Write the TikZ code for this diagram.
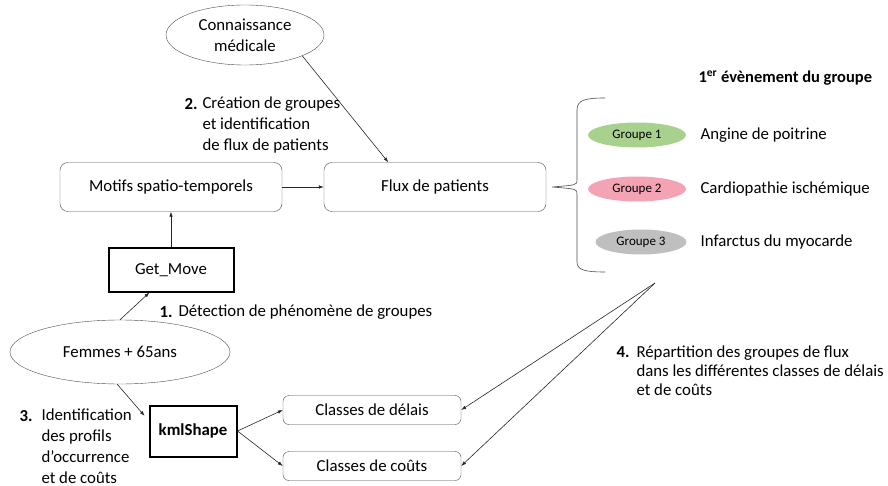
\documentclass[tikz,border=0pt]{standalone}
\usepackage{fontspec}
\setmainfont{Carlito}
\usetikzlibrary{calc, shapes.geometric, arrows.meta}

\begin{document}
\begin{tikzpicture}[x=1pt, y=-1pt,
    every node/.style={font=\fontsize{16.8}{21}\selectfont},
    >={Latex[length=5pt,width=3.5pt]},
    roundbox/.style={draw=black!70, rounded corners=8pt, minimum height=49pt, minimum width=222pt},
    smallbox/.style={draw=black!70, rounded corners=6pt, minimum height=29pt, minimum width=178pt},
    toolbox/.style={draw=black, line width=2pt, minimum height=43pt},
    blob/.style={ellipse, draw=black!70, inner sep=0pt},
    groupe/.style={ellipse, minimum width=98pt, minimum height=25pt, inner sep=0pt, font=\fontsize{13}{15}\selectfont},
    numero/.style={anchor=west, font=\fontsize{16.8}{21}\selectfont\bfseries},
    conn/.style={->, black!85, line width=0.6pt}]

    % Define colours
    \definecolor{vertGroupe}{HTML}{A9D18E}
    \definecolor{roseGroupe}{HTML}{F4A3B4}
    \definecolor{grisGroupe}{HTML}{BFBFBF}

    % Fix the page size
    \useasboundingbox (0,0) rectangle (888,486);

    % Draw ellipses
    \node[blob, minimum width=158pt, minimum height=60pt, align=center] (connaissance) at (245,35) {Connaissance\\médicale};
    \node[blob, minimum width=220pt, minimum height=64pt] (femmes) at (120,352) {Femmes + 65ans};

    % Draw the main boxes
    \node[roundbox] (motifs) at (171,187) {Motifs spatio-temporels};
    \node[roundbox] (flux) at (435,187) {Flux de patients};
    \node[toolbox, minimum width=125pt] (getmove) at (171,270) {Get\_Move};
    \node[toolbox, minimum width=87pt, minimum height=51pt, font=\fontsize{16.8}{21}\selectfont\bfseries] (kml) at (193,431) {kmlShape};
    \node[smallbox] (delais) at (372,410) {Classes de délais};
    \node[smallbox] (couts) at (372,466) {Classes de coûts};

    % Draw the brace and the groups
    \draw[black!70, line width=0.6pt] (605,98) .. controls (585,98) and (577,100) .. (577,110)
        -- (577,180) .. controls (577,185) .. (552,187) .. controls (577,189) .. (577,194)
        -- (577,262) .. controls (577,270) and (585,272) .. (605,272);
    \node[anchor=west, font=\fontsize{16.5}{19}\selectfont\bfseries] (titre) at (695,78) {1\textsuperscript{er} évènement du groupe};
    \node[groupe, fill=vertGroupe] (g1) at (637,135) {Groupe 1};
    \node[groupe, fill=roseGroupe] (g2) at (637,189) {Groupe 2};
    \node[groupe, fill=grisGroupe, minimum width=91pt] (g3) at (641,242) {Groupe 3};
    \node[anchor=west] (angine) at (697,135) {Angine de poitrine};
    \node[anchor=west] (cardio) at (697,189) {Cardiopathie ischémique};
    \node[anchor=west] (infarctus) at (697,242) {Infarctus du myocarde};

    % Step labels
    \node[numero] (n2) at (181,104) {2.};
    \node[anchor=west, align=left] (etape2) at (199,125) {Création de groupes\\et identification\\de flux de patients};
    \node[numero] (n1) at (156,312) {1.};
    \node[anchor=west] (etape1) at (175,312) {Détection de phénomène de groupes};
    \node[numero] (n3) at (16,416) {3.};
    \node[anchor=west, align=left] (etape3) at (38,446) {Identification\\des profils\\d’occurrence\\et de coûts};
    \node[numero] (n4) at (613,352) {4.};
    \node[anchor=west, align=left, font=\fontsize{16.8}{19}\selectfont] (etape4) at (633,371) {Répartition des groupes de flux\\dans les différentes classes de délais\\et de coûts};

    % Draw connectors
    \coordinate (repartition) at (655,283);
    \draw[conn] (connaissance.-20) -- ($(flux.north west)!0.29!(flux.north east)$);
    \draw[conn] (motifs) -- (flux);
    \draw[conn] (getmove) -- (motifs);
    \draw[conn] (femmes.north) -- ($(getmove.south west)!0.33!(getmove.south east)$);
    \draw[conn, shorten >=6pt] (femmes.-95) -- ($(kml.north west)!0.3!(kml.south west)$);
    \draw[conn] (kml.east) -- (delais.west);
    \draw[conn] (kml.east) -- (couts.west);
    \draw[conn] (repartition) -- (delais.east);
    \draw[conn] (repartition) -- (couts.east);

\end{tikzpicture}
\end{document}
